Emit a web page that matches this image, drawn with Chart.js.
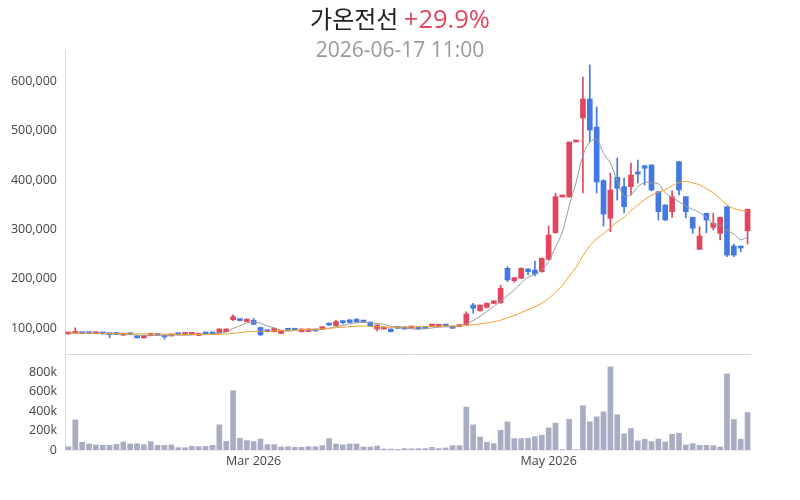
<!DOCTYPE html>
<html><head><meta charset="utf-8">
<script src="https://cdn.jsdelivr.net/npm/chart.js@4.4.1/dist/chart.umd.min.js"></script>
<style>
html,body{margin:0;padding:0;background:#fff;}
#wrap{position:relative;width:800px;height:500px;}
canvas{position:absolute;left:0;top:0;}
#title{position:absolute;left:0;top:2px;width:800px;text-align:center;font-family:'Noto Sans CJK KR','Noto Sans',sans-serif;font-size:24px;color:#222;line-height:32px;}
#title span{font-family:'Open Sans','Noto Sans',sans-serif;font-size:25.5px;color:#e0475f;}
#sub{position:absolute;left:0;top:35px;width:800px;text-align:center;font-family:'Open Sans',sans-serif;font-size:21px;color:#999;line-height:28px;}
</style></head>
<body>
<div id="wrap"><canvas id="c" width="800" height="500"></canvas>
<div id="title">가온전선 <span>+29.9%</span></div>
<div id="sub">2026-06-17 11:00</div></div>
<script>
const dates = ['2026-01-19','2026-01-20','2026-01-21','2026-01-22','2026-01-23','2026-01-26','2026-01-27','2026-01-28','2026-01-29','2026-01-30',
'2026-02-02','2026-02-03','2026-02-04','2026-02-05','2026-02-06','2026-02-09','2026-02-10','2026-02-11','2026-02-12','2026-02-13',
'2026-02-19','2026-02-20','2026-02-23','2026-02-24','2026-02-25','2026-02-26','2026-02-27',
'2026-03-03','2026-03-04','2026-03-05','2026-03-06','2026-03-09','2026-03-10','2026-03-11','2026-03-12','2026-03-13','2026-03-16','2026-03-17','2026-03-18','2026-03-19','2026-03-20','2026-03-23','2026-03-24','2026-03-25','2026-03-26','2026-03-27','2026-03-30','2026-03-31',
'2026-04-01','2026-04-02','2026-04-03','2026-04-06','2026-04-07','2026-04-08','2026-04-09','2026-04-10','2026-04-13','2026-04-14','2026-04-15','2026-04-16','2026-04-17','2026-04-20','2026-04-21','2026-04-22','2026-04-23','2026-04-24','2026-04-27','2026-04-28','2026-04-29','2026-04-30',
'2026-05-04','2026-05-06','2026-05-07','2026-05-08','2026-05-11','2026-05-12','2026-05-13','2026-05-14','2026-05-15','2026-05-18','2026-05-19','2026-05-20','2026-05-21','2026-05-22','2026-05-26','2026-05-27','2026-05-28','2026-05-29',
'2026-06-01','2026-06-02','2026-06-04','2026-06-05','2026-06-08','2026-06-09','2026-06-10','2026-06-11','2026-06-12','2026-06-15','2026-06-16','2026-06-17'];

const opens = [88000,89000,90000,89500,88500,89500,89000,88500,85500,88000,
84000,80000,84500,89000,85000,84000,87500,87000,87000,85000,
91000,88500,90000,92500,117000,118500,113000,115500,101000,95500,
92500,89000,97500,99000,92500,93000,96500,97000,109500,105000,
114000,116500,117500,114000,112000,98000,98000,98000,100500,101000,
100000,100500,102500,104000,103500,104500,104000,103000,107000,146500,
135000,142000,150000,151000,221000,196000,200800,219700,217600,214200,
239300,293300,365700,365700,477200,525900,564400,507600,399000,322500,
405600,386600,386600,415800,429100,430600,376500,349400,335900,437300,
366300,324500,259600,332600,304200,292000,346000,266300,264900,297300];
const highs = [91000,100500,90500,90000,89500,90000,89500,89000,88000,88500,
85000,85000,89500,89500,85500,86500,88000,88000,88000,88500,
91500,89000,98500,98500,126500,119000,118500,119500,102000,96000,
99500,94500,98000,99500,98500,98500,97000,103000,110000,116000,
114500,117000,119500,114500,112500,106500,102500,98500,101000,101500,
101000,101000,103000,106500,106000,105000,104500,104500,133000,150000,
147000,151000,155500,187000,224300,202500,222000,220500,235900,242000,
306900,373000,365700,477200,477200,609000,633400,548200,401000,414300,
444800,404200,434600,440700,430000,431000,377000,350000,378400,438000,
367000,325000,305400,333000,332600,325000,347000,270400,265500,341000];
const lows = [87500,88500,88000,88000,88000,87500,80000,86500,85000,86000,
79500,79500,84000,84500,77500,83500,86000,86500,86500,84500,
87500,87500,89500,92000,115000,114500,112500,107000,85000,92000,
92000,88500,95000,95000,92000,92500,93500,96500,105500,104500,
108500,111000,111500,111500,104000,94000,97500,92000,99000,97500,
99500,97500,98000,103500,103000,103500,99000,102500,105000,130000,
134000,141000,149500,150000,194000,192700,200000,207500,205500,213000,
238000,292000,365700,365700,477200,373800,477200,373800,306900,295300,
359600,333200,369700,394100,390000,378000,319000,318000,324500,369700,
323100,292000,259000,293300,298700,278500,244600,244600,254700,270400];
const closes = [90000,91000,88500,88500,89000,88000,86500,87000,87500,86500,
80000,84500,89000,85000,82000,86000,86500,87500,87500,88000,
88000,88000,98000,98000,123000,115000,118000,107500,86000,92500,
99000,94000,95500,95500,98000,98000,94000,102500,106000,113000,
111000,111500,112000,112000,104500,106000,102000,92500,99500,98000,
100500,98000,98500,106000,105500,104000,99500,104000,128500,140000,
146500,150000,155000,180500,197500,202000,221000,214200,209500,241400,
288600,366300,365700,477200,477200,564400,501500,396100,331000,379900,
383300,346000,410300,412300,423900,379900,335900,319000,366300,379900,
335900,302200,286600,319000,312300,324500,248000,248000,262300,340700];
const ma5 = [89500,89800,89600,89400,89400,89000,88100,87800,87600,87100,
85500,85100,85500,85000,84100,85300,85700,85400,85900,87100,
87500,87800,89900,92000,99000,104400,110400,112300,109900,103800,
100600,95800,93400,95300,96400,96200,96200,97600,99700,102700,
105300,108800,110700,111900,110200,109200,107300,103400,100900,99600,
98500,97700,98900,100200,101700,102400,102700,103800,108300,115200,
123700,133800,144000,154400,165900,177000,191200,203000,208800,217600,
234900,264000,294300,347800,395000,450200,477200,483300,454000,434600,
398400,367300,370100,386400,395200,394500,392500,374200,365000,356200,
347400,340700,334200,324700,311200,308900,298100,290400,279000,284700];
const ma20 = [89500,89400,89300,89200,89100,89000,88900,88700,88600,88400,
88200,88000,87800,87700,87500,87300,87200,87000,86900,86900,
86800,86700,87200,87600,89300,90700,92300,93300,93200,93500,
94500,94900,95300,95800,96600,97200,97600,98300,99200,100500,
101600,102800,103500,104200,103300,102800,102000,101300,102000,102200,
102300,102500,102700,103200,103600,103900,104100,104200,105300,106700,
108500,110400,112500,116000,120600,125400,131400,137400,142900,150100,
159500,172900,186300,204800,223400,246500,266600,281200,291300,303300,
315100,324900,337700,349300,360600,369500,375200,380500,388300,395200,
397600,394400,390400,382500,374300,362300,349600,342200,338800,336800];
const volumes = [34000,309000,79000,62000,52000,48000,48000,58000,82000,62000,
65000,55000,86000,48000,48000,52000,24000,24000,38000,34000,
38000,48000,258000,89000,608000,120000,96000,86000,113000,55000,
55000,31000,34000,27000,27000,34000,34000,45000,117000,62000,
52000,62000,62000,31000,31000,41000,10000,10000,7000,14000,
12000,14000,14000,27000,14000,21000,45000,45000,440000,258000,
134000,79000,65000,203000,289000,117000,117000,120000,137000,151000,
227000,275000,5000,316000,3000,454000,289000,340000,392000,852000,
361000,165000,220000,93000,110000,86000,113000,82000,161000,172000,
52000,65000,48000,48000,45000,31000,780000,313000,110000,385000];

const priceTicks = [100000,200000,300000,400000,500000,600000];
const volumeTicks = [0,200000,400000,600000,800000];
const xTickDates = ['2026-03-03','2026-05-04'];
const xTickText = ['Mar 2026','May 2026'];

const RED = '#e0465d', BLUE = '#4479e2', VOLC = '#a8adc3';
const candleColors = closes.map((c,i)=> c >= opens[i] ? RED : BLUE);
const PMIN = 47300, PMAX = 663800, VMAX = 984600;
const tickFont = {family:"'Open Sans', 'DejaVu Sans', sans-serif", size:12.5};

new Chart(document.getElementById('c'), {
  data: {
    labels: dates,
    datasets: [
      {type:'line', label:'MA20', data: ma20, yAxisID:'y', borderColor:'#f0a030', borderWidth:1, pointRadius:0, tension:0.3, order:0},
      {type:'line', label:'MA5', data: ma5, yAxisID:'y', borderColor:'#9a9a9a', borderWidth:1, pointRadius:0, tension:0.3, order:1},
      {type:'bar', label:'body', data: opens.map((o,i)=>[o, closes[i]]), yAxisID:'y', backgroundColor:candleColors, barThickness:5, minBarLength:2, grouped:false, order:2},
      {type:'bar', label:'wick', data: lows.map((l,i)=>[l, highs[i]]), yAxisID:'y', backgroundColor:candleColors, barThickness:1, grouped:false, order:3},
      {type:'bar', label:'volume', data: volumes, yAxisID:'yv', backgroundColor:VOLC, barThickness:5, grouped:false, order:4}
    ]
  },
  options: {
    responsive:false, animation:false, devicePixelRatio:1,
    layout:{padding:{left:0,right:49,top:50,bottom:26}},
    plugins:{legend:{display:false}, tooltip:{enabled:false}},
    scales:{
      yv:{position:'left', stack:'s', stackWeight:96, min:0, max:VMAX,
         afterBuildTicks:(s)=>{ s.ticks = volumeTicks.map(v=>({value:v})); },
         afterFit:(s)=>{ s.width = 65; },
         grid:{display:false, drawTicks:false},
         border:{display:true, color:'#d9d9d9'},
         ticks:{autoSkip:false, padding:8, color:'#444', font:tickFont, callback:(v)=> v===0 ? '0' : (v/1000)+'k'}},
      y:{position:'left', stack:'s', stackWeight:304, min:PMIN, max:PMAX,
         afterBuildTicks:(s)=>{ s.ticks = [{value:PMIN}].concat(priceTicks.map(v=>({value:v}))); },
         afterFit:(s)=>{ s.width = 65; },
         grid:{drawTicks:false, color:(ctx)=> ctx.tick && ctx.tick.value===PMIN ? '#d9d9d9' : 'rgba(0,0,0,0)'},
         border:{display:true, color:'#d9d9d9'},
         ticks:{autoSkip:false, padding:8, color:'#444', font:tickFont, callback:(v)=> v===PMIN ? '' : v.toLocaleString('en-US')}},
      x:{type:'category', offset:true,
         afterBuildTicks:(s)=>{ s.ticks = xTickDates.map(d=>({value:dates.indexOf(d)})); },
         afterFit:(s)=>{ s.height = 24; },
         grid:{display:false, drawTicks:false},
         border:{display:true, color:'#eeeeee'},
         ticks:{autoSkip:false, maxRotation:0, padding:4, color:'#444', font:tickFont,
                callback:function(v){ return xTickText[xTickDates.indexOf(dates[v])]; }}}
    }
  }
});
</script>
</body></html>
